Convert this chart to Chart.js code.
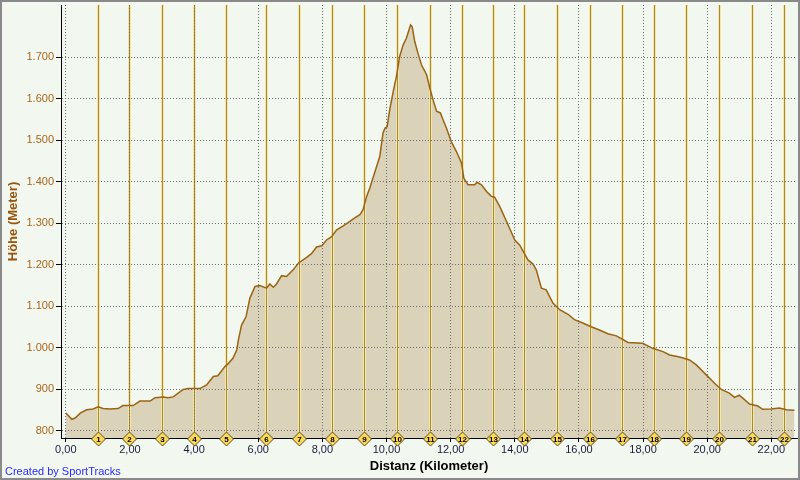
<!DOCTYPE html>
<html>
<head>
<meta charset="utf-8">
<title>Höhenprofil</title>
<script src="https://cdn.jsdelivr.net/npm/chart.js@4"></script>
<style>
  html, body { margin: 0; padding: 0; background: #f2f8f0; }
  #wrap { width: 800px; height: 480px; position: relative; }
</style>
</head>
<body>
<div id="wrap"><canvas id="profile"></canvas></div>
<script>
/* =========================================================
   Data
   ========================================================= */
const distKm = [
  0.00, 0.19, 0.29, 0.45, 0.65, 0.85, 1.01, 1.16, 1.38, 1.63, 1.78, 2.10, 2.31, 2.63, 2.78,
  3.03, 3.19, 3.35, 3.66, 3.81, 4.18, 4.39, 4.60, 4.74, 4.96, 5.05, 5.21, 5.33, 5.38, 5.48,
  5.62, 5.74, 5.90, 6.05, 6.26, 6.36, 6.47, 6.57, 6.73, 6.88, 7.09, 7.25, 7.51, 7.66, 7.82,
  7.98, 8.13, 8.29, 8.44, 8.65, 8.80, 9.01, 9.17, 9.27, 9.38, 9.48, 9.56, 9.79, 9.89, 9.95,
  10.02, 10.10, 10.21, 10.31, 10.41, 10.52, 10.62, 10.75, 10.80, 10.88, 10.98, 11.09, 11.25,
  11.35, 11.45, 11.56, 11.68, 11.76, 11.87, 12.02, 12.18, 12.34, 12.41, 12.54, 12.75, 12.82,
  12.96, 13.12, 13.27, 13.37, 13.53, 13.74, 14.00, 14.15, 14.41, 14.57, 14.67, 14.83, 14.98,
  15.19, 15.40, 15.66, 15.86, 16.12, 16.38, 16.64, 16.90, 17.17, 17.53, 17.99, 18.30, 18.62,
  18.83, 19.14, 19.45, 19.66, 19.97, 20.23, 20.44, 20.69, 20.85, 21.00, 21.11, 21.32, 21.58,
  21.73, 21.99, 22.25, 22.46, 22.72
];
const heightM = [
  843, 828, 831, 843, 851, 853, 858, 854, 853, 854, 861, 861, 872, 872, 880,
  882, 880, 882, 900, 902, 902, 911, 931, 933, 955, 961, 975, 995, 1019, 1055,
  1075, 1120, 1148, 1150, 1144, 1154, 1146, 1154, 1174, 1172, 1188, 1204, 1218, 1227, 1243,
  1246, 1260, 1268, 1284, 1294, 1302, 1313, 1321, 1333, 1365, 1385, 1405, 1461, 1517, 1529,
  1533, 1574, 1618, 1654, 1702, 1730, 1746, 1778, 1774, 1738, 1710, 1682, 1658,
  1626, 1598, 1570, 1566, 1550, 1529, 1497, 1473, 1445, 1409, 1393, 1393, 1399,
  1393, 1377, 1365, 1363, 1341, 1305, 1260, 1248, 1212, 1202, 1188, 1144, 1140,
  1108, 1092, 1081, 1068, 1060, 1051, 1043, 1034, 1029, 1013, 1011, 999, 991,
  983, 978, 971, 959, 935, 915, 900, 891, 881, 886, 879, 865, 860,
  852, 853, 855, 851, 850
];
// Runden-/Kilometermarken (1 .. 22)
const lapKm = [
  1.00, 1.98, 2.99, 4.01, 5.00, 6.23, 7.27, 8.29, 9.29, 10.34, 11.35,
  12.34, 13.32, 14.29, 15.33, 16.33, 17.34, 18.33, 19.35, 20.38, 21.39, 22.39
];
const distTicks = [0, 2, 4, 6, 8, 10, 12, 14, 16, 18, 20, 22];
const heightTicks = [800, 900, 1000, 1100, 1200, 1300, 1400, 1500, 1600, 1700];

/* =========================================================
   Helpers
   ========================================================= */
const fmtHeight = v => v >= 1000
  ? Math.floor(v / 1000) + '.' + String(v % 1000).padStart(3, '0')
  : String(v);
const fmtDist = v => v.toFixed(2).replace('.', ',');

// Lap lines, diamonds, credit and frame
const lapMarkers = {
  id: 'lapMarkers',
  beforeDatasetDraw(chart) {
    const { ctx, chartArea, scales: { x } } = chart;
    const h = chartArea.bottom - chartArea.top;
    ctx.save();
    lapKm.forEach(km => {
      const px = Math.round(x.getPixelForValue(km));
      ctx.fillStyle = '#f7e6a2';
      ctx.fillRect(px - 1, chartArea.top, 3, h);
      ctx.fillStyle = '#a38a3e';
      ctx.fillRect(px, chartArea.top, 1, h);
    });
    ctx.restore();
  },
  afterDraw(chart) {
    const { ctx, chartArea, scales: { x } } = chart;
    ctx.save();
    const py = chartArea.bottom + 1;
    lapKm.forEach((km, i) => {
      const px = Math.round(x.getPixelForValue(km)) + 0.5;
      ctx.beginPath();
      ctx.moveTo(px, py - 7);
      ctx.lineTo(px + 7, py);
      ctx.lineTo(px, py + 7);
      ctx.lineTo(px - 7, py);
      ctx.closePath();
      ctx.fillStyle = '#fbd85a';
      ctx.fill();
      ctx.lineWidth = 1;
      ctx.strokeStyle = '#5c4c1c';
      ctx.stroke();
      ctx.fillStyle = '#000000';
      ctx.font = "bold 8px 'Liberation Sans', Arial, sans-serif";
      ctx.textAlign = 'center';
      ctx.textBaseline = 'middle';
      ctx.fillText(String(i + 1), px, py + 0.5);
    });

    ctx.fillStyle = '#2b2bff';
    ctx.font = "11px 'Liberation Sans', Arial, sans-serif";
    ctx.textAlign = 'left';
    ctx.textBaseline = 'alphabetic';
    ctx.fillText('Created by SportTracks', 5, 475);

    ctx.strokeStyle = '#8a8a8a';
    ctx.lineWidth = 2;
    ctx.strokeRect(1, 1, 798, 478);
    ctx.restore();
  }
};

/* =========================================================
   Chart
   ========================================================= */
Chart.defaults.font.family = "'Liberation Sans', Arial, sans-serif";
Chart.defaults.font.size = 11;

new Chart(document.getElementById('profile'), {
  type: 'line',
  data: {
    datasets: [{
      label: 'Höhe',
      data: distKm.map((d, i) => ({ x: d, y: heightM[i] })),
      borderColor: '#9a6412',
      borderWidth: 1.5,
      backgroundColor: '#dbd3b9',
      fill: 'start',
      pointRadius: 0,
      tension: 0
    }]
  },
  options: {
    responsive: true,
    maintainAspectRatio: false,
    animation: false,
    layout: { padding: { top: 5, right: 3, left: 0, bottom: 0 } },
    plugins: {
      legend: { display: false },
      tooltip: { enabled: false }
    },
    scales: {
      x: {
        type: 'linear',
        min: -0.15,
        max: 22.8,
        afterBuildTicks: s => { s.ticks = distTicks.map(v => ({ value: v })); },
        afterFit: s => { s.height = 42; s.paddingLeft = 0; s.paddingRight = 0; },
        ticks: {
          color: '#1c1c3c',
          padding: 1,
          maxRotation: 0,
          autoSkip: false,
          callback: v => fmtDist(v)
        },
        grid: {
          z: 1,
          color: '#6e6e6e',
          lineWidth: 1,
          tickLength: 4,
          tickColor: '#000000'
        },
        border: { z: 2, color: '#000000', width: 1, dash: [1, 2] },
        title: {
          display: true,
          text: 'Distanz (Kilometer)',
          color: '#000000',
          font: { size: 13, weight: 'bold' },
          padding: { top: 0, bottom: 6 }
        }
      },
      y: {
        min: 783,
        max: 1826,
        afterBuildTicks: s => { s.ticks = heightTicks.map(v => ({ value: v })); },
        afterFit: s => { s.width = 61; s.paddingTop = 0; s.paddingBottom = 0; },
        ticks: {
          color: '#a8661a',
          padding: 2,
          autoSkip: false,
          callback: v => fmtHeight(v)
        },
        grid: {
          z: 1,
          color: '#6e6e6e',
          lineWidth: 1,
          tickLength: 5,
          tickColor: '#000000'
        },
        border: { z: 2, color: '#000000', width: 1, dash: [1, 2] },
        title: {
          display: true,
          text: 'Höhe (Meter)',
          color: '#96540c',
          font: { size: 13, weight: 'bold' },
          padding: { top: 6, bottom: 0 }
        }
      }
    }
  },
  plugins: [lapMarkers]
});
</script>
</body>
</html>
